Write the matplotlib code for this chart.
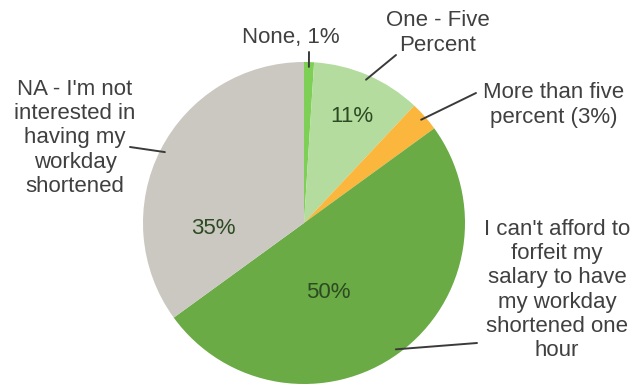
import numpy as np
import matplotlib
matplotlib.use("Agg")
import matplotlib.pyplot as plt

# 데이터
labels = ["None, 1%", "One - Five\nPercent", "More than five\npercent (3%)",
          "I can't afford to\nforfeit my\nsalary to have\nmy workday\nshortened one\nhour",
          "NA - I'm not\ninterested in\nhaving my\nworkday\nshortened"]
values = [1, 11, 3, 50, 35]
pct_text = ["", "11%", "", "50%", "35%"]
colors = ["#7dcf55", "#b3dc9e", "#fbb63e", "#6aab45", "#cbc8c2"]

plt.rcParams['font.family'] = ['Liberation Sans', 'DejaVu Sans']

W, H = 636, 387
fig = plt.figure(figsize=(W / 100, H / 100), dpi=100)
ax = fig.add_axes([0, 0, 1, 1])

# 파이 중심/반지름 (픽셀)
cx, cy, R = 304, 223, 161
def px(x, y):
    return (x - cx) / R, (cy - y) / R

wedges, _ = ax.pie(values, colors=colors, startangle=90, counterclock=False,
                   radius=1, wedgeprops=dict(linewidth=0))

ax.set_xlim(-cx / R, (W - cx) / R)
ax.set_ylim(-(H - cy) / R, cy / R)
ax.set_aspect('equal')
ax.axis('off')

tcol = "#404040"
fs = 16

# 바깥 라벨 위치 (픽셀), 리더선 끝점
label_pos = [(291, 38), (438, 33), (554, 105), (557, 290), (75, 138)]
line_end = [(309, 52), (396, 55), (476, 93), (477, 343), (130, 147)]

for w, lab, lp, le in zip(wedges, labels, label_pos, line_end):
    mid = np.deg2rad((w.theta1 + w.theta2) / 2)
    x0, y0 = 0.97 * np.cos(mid), 0.97 * np.sin(mid)
    x1, y1 = px(*le)
    ax.plot([x0, x1], [y0, y1], color="#3a3a3a", lw=1.4, solid_capstyle='round')
    tx, ty = px(*lp)
    ax.text(tx, ty, lab, ha='center', va='center', fontsize=fs, color=tcol,
            linespacing=1.2)

# 조각 안쪽 퍼센트 라벨
pct_pos = [None, (352, 117), None, (328, 293), (213, 228)]
for t, p in zip(pct_text, pct_pos):
    if p is None:
        continue
    tx, ty = px(*p)
    ax.text(tx, ty, t, ha='center', va='center', fontsize=fs, color="#2d4a22")

fig.savefig("out.png", dpi=100)
